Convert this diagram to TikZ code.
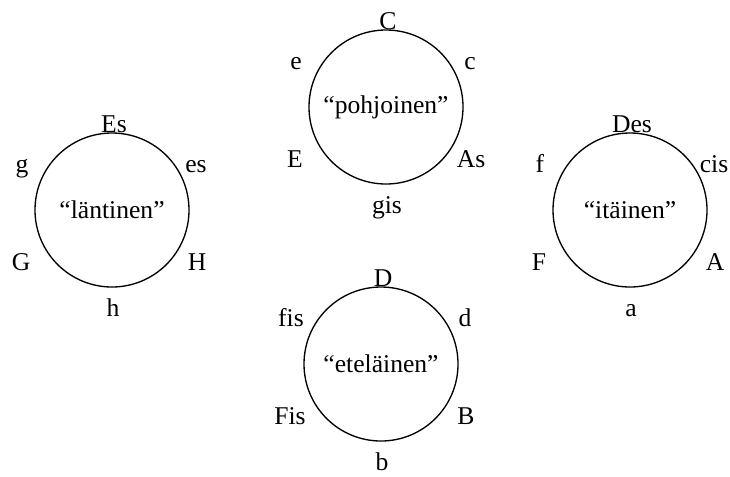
\documentclass[tikz,border=0pt]{standalone}
\usepackage{fontspec}
\setmainfont{Liberation Serif}
\begin{document}
\begin{tikzpicture}[x=0.75pt, y=-0.75pt, every node/.style={font=\fontsize{19.2}{23}\selectfont}]
\tikzset{
  pole/.style={draw=black, circle, line width=1pt, inner sep=0pt, minimum size=115.5pt},
  tone/.style={anchor=base, inner sep=0pt}
}
\useasboundingbox (0,0) rectangle (730,476);


\foreach \name/\x/\y/\word/\t/\ul/\ur/\dl/\dr/\b in {
    north/386/107/pohjoinen/C/e/c/E/As/gis,
    west/112/210/läntinen/Es/g/es/G/H/h,
    east/630/210/itäinen/Des/f/cis/F/A/a,
    south/381/364/eteläinen/D/fis/d/Fis/B/b}
{
  \node [pole] (\name) at (\x,\y) {“\word”};
  \node [tone] (\name-t)  at (\x+2,\y-78)  {\t};
  \node [tone] (\name-ul) at (\x-90,\y-38) {\ul};
  \node [tone] (\name-ur) at (\x+84,\y-38) {\ur};
  \node [tone] (\name-dl) at (\x-91,\y+60) {\dl};
  \node [tone] (\name-dr) at (\x+85,\y+60) {\dr};
  \node [tone] (\name-b)  at (\x+1,\y+106) {\b};
}

\end{tikzpicture}
\end{document}
